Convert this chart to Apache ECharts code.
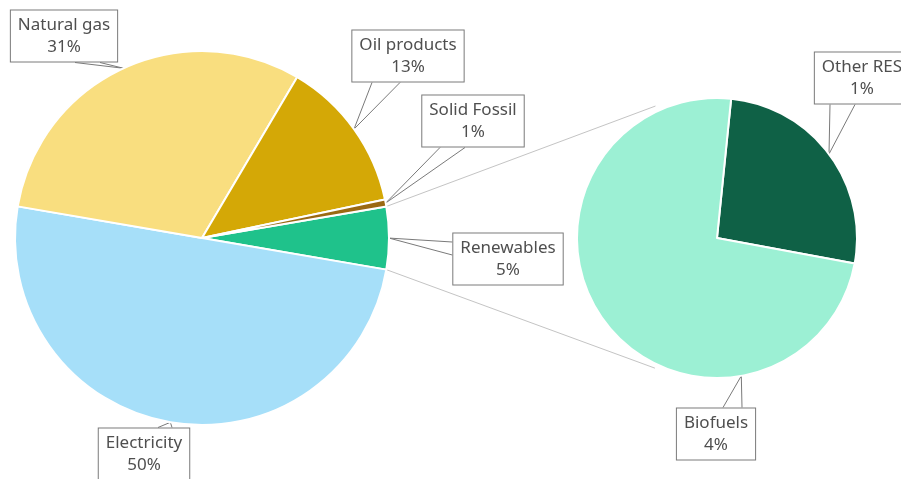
<!DOCTYPE html>
<html>
<head>
<meta charset="utf-8">
<script src="https://cdn.jsdelivr.net/npm/echarts@6/dist/echarts.min.js"></script>
<style>
  html, body { margin: 0; padding: 0; background: #fff; }
  #main { width: 901px; height: 479px; }
</style>
</head>
<body>
<div id="main"></div>
<script>
// energy mix (share of total, %)
var mainNames = ['Renewables', 'Electricity', 'Natural gas', 'Oil products', 'Solid Fossil'];
var mainValues = [5.4, 50.0, 30.8, 13.2, 0.6];
var mainColors = ['#1fc28b', '#a6dff9', '#f9de7f', '#d4a806', '#9a6912'];

// renewables breakdown
var subNames = ['Other RES', 'Biofuels'];
var subValues = [1.42, 3.98];
var subColors = ['#0f6146', '#9cf0d4'];

var leftCenter = [202, 238], leftRadius = 187;
var rightCenter = [717, 238], rightRadius = 140;
var leftStart = 9.7, rightStart = 84.2;

// where the callout boxes sit and where their pointer meets the box
var callouts = {
    'Natural gas': { x: 64, y: 36, side: 'bottom', a: 11, b: 36 },
    'Oil products': { x: 408, y: 56, side: 'bottom', a: -36, b: -8 },
    'Solid Fossil': { x: 473, y: 121, side: 'bottom', a: -33, b: -8 },
    'Renewables': { x: 508, y: 259, side: 'left', a: -17, b: -4 },
    'Electricity': { x: 144, y: 454, side: 'top', a: 14, b: 28 },
    'Other RES': { x: 862, y: 78, side: 'bottom', a: -32, b: -7 },
    'Biofuels': { x: 716, y: 434, side: 'top', a: 7, b: 26, tipAngle: -80 }
};

var dom = document.getElementById('main');
var myChart = echarts.init(dom);

function pt(c, r, deg) {
    var a = deg * Math.PI / 180;
    return [c[0] + r * Math.cos(a), c[1] - r * Math.sin(a)];
}

function makeData(names, values, colors) {
    return names.map(function (n, i) {
        return { name: n, value: values[i], itemStyle: { color: colors[i] } };
    });
}

function layoutLabel(params) {
    var c = callouts[params.text.split('\n')[0]];
    if (!c) return {};
    var w = params.labelRect.width, h = params.labelRect.height;
    var tip = params.labelLinePoints ? params.labelLinePoints[0] : [c.x, c.y];
    if (c.tipAngle !== undefined) tip = pt(rightCenter, rightRadius, c.tipAngle);
    var p1, p2;
    if (c.side === 'bottom') {
        p1 = [c.x + c.a, c.y + h / 2]; p2 = [c.x + c.b, c.y + h / 2];
    } else if (c.side === 'top') {
        p1 = [c.x + c.a, c.y - h / 2]; p2 = [c.x + c.b, c.y - h / 2];
    } else {
        p1 = [c.x - w / 2, c.y + c.a]; p2 = [c.x - w / 2, c.y + c.b];
    }
    return {
        x: c.x,
        y: c.y,
        align: 'center',
        verticalAlign: 'middle',
        labelLinePoints: [p1, tip, p2]
    };
}

var labelStyle = {
    show: true,
    position: 'outside',
    formatter: function (p) { return p.name + '\n' + Math.round(p.value) + '%'; },
    color: '#4f4f4f',
    fontFamily: 'Noto Sans',
    fontSize: 17,
    lineHeight: 22,
    align: 'center',
    backgroundColor: '#fff',
    borderColor: '#7a7a7a',
    borderWidth: 1,
    padding: [4, 7, 3, 7]
};
var lineStyle = { show: true, length: 10, length2: 10, lineStyle: { color: '#7a7a7a', width: 1 } };

// connector lines between the renewables slice and the breakdown pie
var renewSpan = mainValues[0] / mainValues.reduce(function (s, v) { return s + v; }, 0) * 360;
var lt = pt(leftCenter, leftRadius, leftStart);
var lb = pt(leftCenter, leftRadius, leftStart - renewSpan);
var rt = pt(rightCenter, rightRadius * 1.04, 115);
var rb = pt(rightCenter, rightRadius * 1.03, -115.5);

option = {
    backgroundColor: '#fff',
    animation: false,
    graphic: [
        { type: 'line', z: -1, shape: { x1: lt[0], y1: lt[1], x2: rt[0], y2: rt[1] }, style: { stroke: '#c4c4c4', lineWidth: 1 } },
        { type: 'line', z: -1, shape: { x1: lb[0], y1: lb[1], x2: rb[0], y2: rb[1] }, style: { stroke: '#c4c4c4', lineWidth: 1 } }
    ],
    series: [
        {
            name: 'Energy mix',
            type: 'pie',
            center: leftCenter,
            radius: leftRadius,
            startAngle: leftStart,
            clockwise: true,
            avoidLabelOverlap: false,
            itemStyle: { borderColor: '#fff', borderWidth: 2 },
            label: labelStyle,
            labelLine: lineStyle,
            labelLayout: layoutLabel,
            data: makeData(mainNames, mainValues, mainColors)
        },
        {
            name: 'Renewables',
            type: 'pie',
            center: rightCenter,
            radius: rightRadius,
            startAngle: rightStart,
            clockwise: true,
            avoidLabelOverlap: false,
            itemStyle: { borderColor: '#fff', borderWidth: 2 },
            label: labelStyle,
            labelLine: lineStyle,
            labelLayout: layoutLabel,
            data: makeData(subNames, subValues, subColors)
        }
    ]
};

myChart.setOption(option);
</script>
</body>
</html>
